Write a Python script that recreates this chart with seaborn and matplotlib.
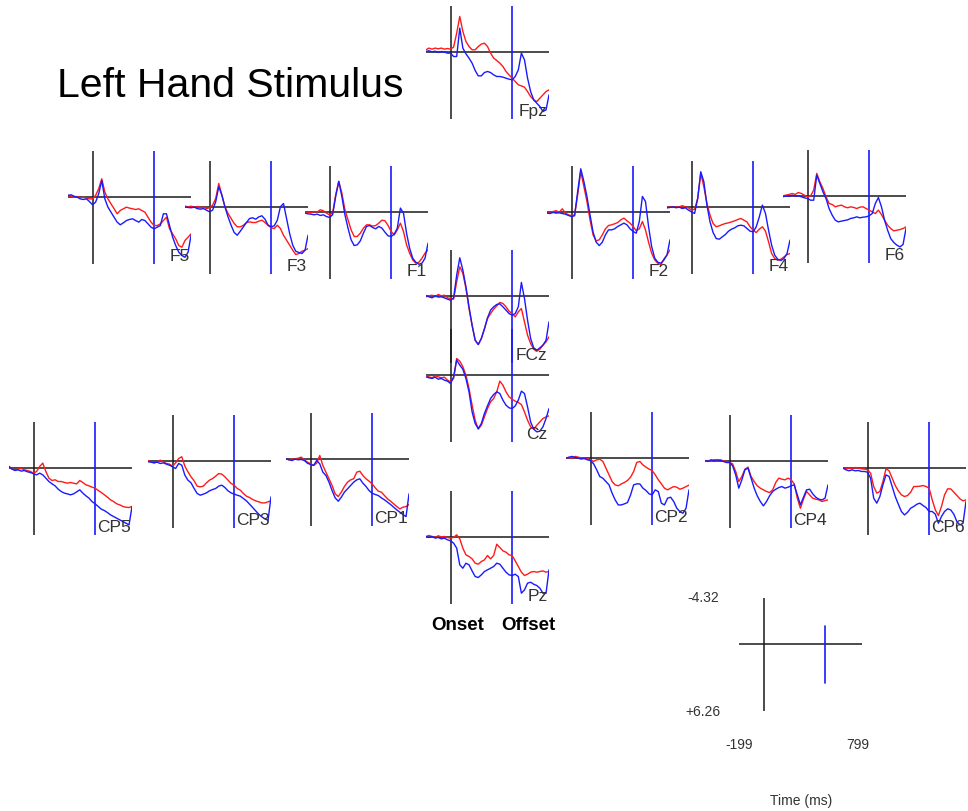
import matplotlib
matplotlib.use("Agg")
import matplotlib.pyplot as plt
import seaborn as sns

sns.set_style("white")
plt.rcParams['font.family'] = ['Liberation Sans', 'DejaVu Sans']

# Sample times (ms) shared by every channel
TIME_MS = [-199, -175, -150, -125, -100, -75, -50, -25, 0, 25, 50, 75, 100, 125,
           150, 175, 200, 225, 250, 275, 300, 325, 350, 375, 400, 425, 450, 475,
           500, 525, 550, 575, 600, 625, 650, 675, 700, 725, 750, 775, 799]

Y_TOP, Y_BOTTOM = -4.32, 6.26      # microvolts, negative plotted upward
T_MIN, T_MAX = -199, 799
ONSET_MS, OFFSET_MS = 0, 500

# Grand-average waveforms (microvolts), red and blue conditions
FPZ_RED = [-0.22, -0.38, -0.28, -0.38, -0.31, -0.38, -0.28, -0.34, -0.28, -0.47,
           -1.78, -3.34, -1.94, -1.0, -0.53, -0.22, -0.22, -0.53, -0.75, -0.84,
           -0.53, 0.09, 0.56, 0.78, 1.03, 1.34, 1.81, 2.13, 2.44, 2.75,
           3.06, 3.16, 3.28, 3.69, 4.16, 4.47, 4.63, 4.31, 4.0, 3.69, 3.53]
FPZ_BLUE = [-0.06, -0.13, -0.03, -0.09, 0.03, -0.06, 0, 0.09, 0.09, 0.41,
            0.41, -2.25, -0.38, 0.16, 0.56, 1.03, 1.72, 2.22, 2.22, 1.91,
            1.81, 1.91, 2.13, 2.28, 2.28, 2.34, 2.44, 2.53, 2.59, 2.28,
            1.66, 0.09, 0.72, 2.44, 3.69, 4.47, 4.78, 5.09, 5.56, 5.41, 4.0]

F5_RED = [-0.16, -0.1, 0, -0.06, 0.06, 0, 0.1, 0.16, 0.16, -0.16,
          -0.78, -1.72, -0.47, 0.16, 0.63, 1.09, 1.56, 1.25, 1.09, 0.94,
          1.03, 1.09, 1.16, 1.09, 1.25, 1.41, 1.88, 2.34, 2.66, 2.66,
          2.5, 2.19, 1.88, 2.97, 3.44, 3.91, 4.53, 4.69, 4.06, 3.75, 3.44]
F5_BLUE = [-0.16, -0.22, -0.09, 0, 0.16, 0.22, 0.16, 0.41, 0.72, 0.47,
           -0.31, -1.56, 0.16, 0.94, 1.41, 1.88, 2.34, 2.59, 2.41, 2.19,
           2.09, 2.03, 2.19, 2.34, 2.09, 2.19, 2.5, 2.81, 2.97, 2.81,
           2.66, 1.56, 1.56, 2.66, 3.75, 4.53, 5.16, 5.47, 5.63, 5.16, 3.59]

F3_RED = [-0.09, -0.03, -0.09, 0, -0.06, 0.06, -0.03, 0.13, 0.06, -0.19,
          -0.81, -2.22, -1.13, -0.03, 0.59, 1.06, 1.53, 1.84, 1.84, 1.69,
          1.44, 1.38, 1.44, 1.44, 1.31, 1.22, 1.44, 1.69, 1.94, 2.0,
          1.69, 2.0, 2.63, 3.09, 3.56, 4.03, 4.44, 4.34, 4.13, 4.03, 3.88]
F3_BLUE = [-0.03, 0.03, 0.06, 0, 0.13, 0.19, 0.13, 0.28, 0.44, 0.28,
           -0.5, -1.91, -1.13, -0.03, 0.91, 1.69, 2.38, 2.63, 2.25, 1.84,
           1.44, 1.06, 1.0, 1.13, 0.91, 0.81, 1.13, 1.69, 1.84, 1.75,
           1.22, -0.03, -0.34, 1.06, 2.47, 3.56, 4.13, 4.25, 4.34, 4.03, 2.63]

F1_RED = [0, 0, 0.06, -0.06, 0, -0.22, -0.13, 0.09, 0.25, 0.09,
          -1.63, -2.88, -1.78, -0.22, 0.72, 1.66, 2.28, 2.28, 1.97, 1.5,
          1.19, 1.19, 1.31, 1.25, 1.03, 0.75, 0.81, 1.25, 1.81, 2.13,
          1.66, 1.03, 1.81, 3.06, 3.84, 4.47, 4.78, 4.69, 4.31, 3.84, 3.53]
F1_BLUE = [0.09, 0.16, 0.19, 0.25, 0.19, 0.31, 0.25, 0.41, 0.5, 0.25,
           -1.47, -2.88, -1.47, 0.25, 1.5, 2.59, 3.13, 3.06, 2.69, 1.97,
           1.34, 1.25, 1.44, 1.56, 1.34, 1.5, 1.88, 2.22, 2.28, 2.06,
           1.5, -0.38, 0.09, 1.97, 3.38, 4.31, 4.69, 4.88, 4.78, 4.31, 2.91]

F2_RED = [0.09, 0, -0.06, -0.13, 0, -0.31, 0.09, 0.25, 0.34, 0.25,
          -1.63, -3.81, -2.41, -1.0, 0.72, 2.13, 2.69, 2.59, 2.13, 1.56,
          1.25, 1.19, 1.09, 0.97, 0.72, 0.56, 0.81, 1.03, 1.34, 1.75,
          1.56, 0.88, 1.66, 2.81, 3.84, 4.47, 4.78, 4.94, 4.38, 4.0, 3.53]
F2_BLUE = [0.09, 0.13, 0.03, 0.09, 0.06, 0.13, 0.19, 0.31, 0.41, 0.34,
           -1.94, -4.06, -2.88, -1.47, 0.25, 1.88, 2.81, 3.13, 2.81, 2.13,
           1.66, 1.66, 1.56, 1.34, 1.19, 1.03, 1.19, 1.56, 1.81, 1.97,
           0.88, -1.47, -1.0, 1.34, 3.22, 4.31, 4.69, 4.78, 4.47, 4.0, 2.59]

F4_RED = [0.06, -0.03, 0.03, -0.03, -0.03, -0.13, -0.03, 0.06, 0.28, 0.19,
          -0.81, -3.16, -1.91, -0.34, 0.75, 1.53, 1.84, 1.75, 1.63, 1.53,
          1.47, 1.38, 1.28, 1.16, 1.06, 1.22, 1.38, 1.84, 2.16, 2.38,
          2.06, 1.84, 2.25, 3.25, 4.34, 4.81, 4.97, 4.88, 4.66, 4.44, 4.34]
F4_BLUE = [0.06, 0.03, -0.03, 0.06, 0, 0.13, 0.06, 0.28, 0.44, 0.59,
           -0.81, -3.31, -2.38, -0.19, 1.38, 2.38, 2.94, 3.0, 2.78, 2.56,
           2.25, 2.06, 1.94, 1.75, 1.69, 1.75, 2.0, 2.25, 2.31, 1.84,
           0.91, -0.19, 0.59, 2.16, 3.56, 4.5, 4.88, 5.0, 4.81, 4.34, 3.09]

F6_RED = [-0.03, -0.09, -0.16, -0.25, -0.16, -0.34, -0.25, -0.09, 0.06, -0.03,
          -0.56, -2.13, -1.34, -0.72, 0.06, 0.69, 0.78, 1.0, 0.91, 0.84,
          1.0, 1.09, 1.0, 1.06, 1.16, 1.03, 1.0, 1.16, 1.31, 1.47,
          1.63, 1.31, 1.72, 2.25, 2.72, 3.03, 3.25, 3.19, 3.13, 3.03, 2.88]
F6_BLUE = [0.06, -0.03, 0.03, -0.09, 0, -0.03, 0.06, 0.16, 0.22, 0.38,
           0.38, -1.97, -1.19, -0.41, 0.22, 1.16, 1.78, 2.25, 2.41, 2.34,
           2.28, 2.22, 2.09, 2.03, 1.94, 2.03, 1.97, 1.94, 1.84, 1.63,
           0.69, 0.13, 1.0, 2.25, 3.19, 3.97, 4.34, 4.59, 4.75, 4.53, 3.03]

FCZ_RED = [0.06, -0.03, -0.09, 0.06, -0.16, -0.03, -0.09, 0.16, 0.22, 0.28,
           -1.34, -2.75, -2.13, -0.72, 1.16, 2.72, 4.13, 4.53, 3.97, 3.03,
           2.09, 1.63, 1.22, 0.91, 0.59, 0.69, 1.0, 1.41, 1.63, 1.94,
           1.47, 1.16, 2.41, 3.66, 4.44, 4.97, 5.16, 4.97, 4.59, 4.28, 3.81]
FCZ_BLUE = [-0.03, 0.06, 0.16, -0.03, 0.09, 0.06, 0.16, 0.28, 0.38, 0.16,
            -1.97, -3.59, -2.44, -0.88, 1.0, 2.72, 4.13, 4.53, 3.97, 3.09,
            2.03, 1.31, 1.0, 0.78, 0.72, 1.0, 1.31, 1.63, 1.78, 1.63,
            1.0, -1.28, 0.22, 2.25, 3.97, 4.84, 5.06, 4.84, 4.59, 4.13, 2.41]

CZ_RED = [0.06, 0.16, 0.25, 0.06, 0.16, 0.25, 0.19, 0.47, 0.63, 0.31,
          -1.56, -1.31, -0.78, 0, 1.25, 2.81, 4.22, 5.06, 4.69, 3.91,
          3.13, 2.5, 2.19, 1.56, 0.56, 0.94, 1.56, 2.03, 2.25, 2.44,
          2.56, 2.75, 3.44, 4.22, 4.84, 5.06, 4.69, 4.38, 4.06, 3.91, 3.81]
CZ_BLUE = [0.16, 0.25, 0.31, 0.19, 0.38, 0.31, 0.47, 0.56, 0.78, 0.16,
           -1.41, -0.94, -0.56, 0.31, 1.56, 3.44, 4.53, 5.0, 4.53, 3.59,
           2.88, 2.19, 1.81, 1.56, 1.72, 2.34, 2.81, 3.06, 3.13, 2.88,
           2.34, 1.5, 1.72, 2.97, 4.38, 5.06, 5.31, 5.25, 4.84, 4.06, 3.13]

CP5_RED = [-0.16, 0.09, 0.16, 0.09, 0.03, 0.16, 0.22, 0.31, 0.47, 0.31,
           -0.16, -0.47, 0.31, 0.94, 1.16, 1.09, 1.25, 1.25, 1.34, 1.41,
           1.34, 1.41, 1.47, 1.16, 1.34, 1.56, 1.66, 1.78, 1.88, 2.09,
           2.28, 2.5, 2.72, 2.97, 3.13, 3.34, 3.44, 3.59, 3.66, 3.69, 3.59]
CP5_BLUE = [-0.16, 0.09, 0.22, 0.16, 0.28, 0.22, 0.34, 0.41, 0.53, 0.63,
            0.47, 0.63, 0.94, 1.25, 1.47, 1.66, 1.97, 2.19, 2.34, 2.41,
            2.5, 2.41, 2.22, 2.03, 2.34, 2.59, 2.81, 3.13, 3.34, 3.59,
            3.84, 3.97, 4.16, 4.38, 4.53, 4.69, 4.84, 5.0, 5.16, 5.31, 3.59]

CP3_RED = [-0.03, 0.06, 0.16, 0.06, -0.09, 0.06, 0.22, 0.28, 0.47, 0.16,
           -0.25, -0.41, 0.47, 1.0, 1.47, 1.84, 2.34, 2.41, 2.34, 2.03,
           1.78, 1.63, 1.41, 1.16, 1.22, 1.47, 1.78, 2.09, 2.25, 2.56,
           2.72, 3.03, 3.28, 3.41, 3.59, 3.72, 3.81, 3.91, 3.91, 3.81, 3.72]
CP3_BLUE = [0.06, 0.09, 0.16, 0.09, 0.22, 0.16, 0.28, 0.38, 0.53, 0.69,
            0.22, 0.38, 1.31, 1.78, 2.03, 2.56, 3.03, 3.19, 3.09, 2.97,
            2.78, 2.66, 2.56, 2.34, 2.25, 2.47, 2.78, 2.97, 3.09, 3.19,
            3.28, 3.5, 3.72, 4.03, 4.34, 4.66, 4.97, 5.22, 5.41, 5.53, 3.34]

CP1_RED = [-0.03, 0.06, 0, -0.03, -0.09, -0.19, 0.06, 0.28, 0.44, 0.59,
           0.38, -0.34, 0.59, 1.22, 1.84, 2.47, 3.25, 3.5, 3.09, 2.56,
           2.16, 1.94, 1.84, 1.22, 1.13, 1.53, 1.84, 2.06, 2.31, 2.69,
           3.0, 3.09, 3.41, 3.72, 3.94, 4.19, 4.44, 4.66, 4.5, 4.44, 4.25]
CP1_BLUE = [-0.03, 0.06, 0.13, 0, 0.06, 0.03, 0.13, 0.38, 0.5, 0.59,
            0.13, 0.44, 1.22, 1.53, 2.16, 2.94, 3.63, 3.94, 3.56, 3.09,
            2.78, 2.47, 2.16, 1.94, 1.84, 2.25, 2.56, 2.94, 3.19, 3.31,
            3.41, 3.63, 3.81, 4.03, 4.25, 4.5, 4.75, 4.97, 5.19, 5.38, 3.25]

CP2_RED = [0, -0.06, 0, -0.16, -0.09, -0.03, 0.03, 0.06, 0.16, 0.31,
           0.16, 0.09, 0.31, 0.94, 1.56, 2.19, 2.5, 2.59, 2.41, 2.28,
           2.09, 1.78, 1.25, 0.41, 0.31, 0.63, 0.84, 1.03, 1.16, 1.56,
           2.03, 2.41, 2.81, 2.97, 2.81, 2.66, 2.72, 2.91, 2.81, 2.66, 2.53]
CP2_BLUE = [0, -0.09, -0.16, -0.06, 0, 0.09, 0.03, 0.16, 0.22, 0.53,
            1.09, 1.72, 1.88, 2.19, 2.5, 3.28, 3.91, 4.38, 4.38, 4.28,
            4.16, 3.44, 2.5, 2.41, 2.41, 2.81, 3.03, 3.34, 3.44, 2.97,
            3.13, 4.22, 4.38, 3.75, 3.66, 4.06, 4.69, 5.0, 5.16, 4.69, 2.97]

CP4_RED = [0.03, -0.06, 0.03, -0.13, -0.03, -0.13, -0.03, 0.03, 0.13, 0.25,
           0.97, 1.91, 1.44, 0.75, 0.56, 1.44, 1.91, 2.31, 2.53, 2.69,
           2.84, 2.94, 2.69, 2.0, 1.59, 1.69, 1.75, 1.59, 1.75, 2.13,
           3.47, 4.41, 3.56, 2.84, 3.16, 3.47, 3.56, 3.63, 3.78, 3.69, 3.63]
CP4_BLUE = [-0.06, 0.03, -0.13, -0.06, -0.13, -0.06, 0.03, 0.13, 0.13, 0.44,
            1.28, 2.53, 1.75, 0.81, 0.66, 1.59, 2.53, 3.25, 3.78, 4.19,
            3.78, 3.25, 2.84, 2.63, 2.47, 2.38, 2.53, 2.44, 2.31, 2.22,
            3.16, 4.09, 3.38, 2.69, 2.63, 3.06, 3.38, 3.56, 3.63, 3.47, 2.22]

CP6_RED = [-0.06, 0.06, 0, 0.06, -0.06, 0, 0.06, 0.09, 0.16, 0.47,
           1.72, 2.34, 2.19, 1.25, 0.06, 0.25, 0.94, 1.63, 2.13, 2.5,
           2.66, 2.56, 2.25, 1.72, 1.72, 1.69, 1.63, 1.72, 1.88, 2.97,
           3.91, 4.44, 3.59, 2.5, 1.94, 1.94, 2.25, 2.56, 2.88, 3.06, 2.97]
CP6_BLUE = [0, 0.16, 0.25, 0.16, 0.25, 0.22, 0.31, 0.31, 0.38, 0.94,
            2.81, 3.28, 2.66, 1.56, 0.63, 0.78, 1.72, 2.66, 3.38, 4.06,
            4.38, 4.13, 3.75, 3.59, 3.38, 3.28, 3.5, 3.69, 4.06, 4.06,
            4.31, 5.16, 4.53, 4.06, 3.81, 3.91, 4.31, 5.0, 5.31, 5.16, 3.13]

PZ_RED = [-0.06, -0.16, -0.06, 0.03, -0.13, -0.03, -0.06, 0.03, 0.09, 0.03,
          -0.22, 0.16, 1.03, 1.66, 1.81, 2.03, 2.44, 2.53, 2.28, 2.13,
          1.72, 2.03, 1.72, 0.66, 0.97, 1.28, 1.41, 1.66, 1.72, 2.22,
          2.75, 3.28, 3.59, 3.47, 3.28, 3.22, 3.28, 3.22, 3.16, 3.28, 3.22]
PZ_BLUE = [-0.06, 0.03, -0.06, 0.09, 0.03, 0.16, 0.09, 0.25, 0.34, 0.56,
           1.03, 2.59, 2.91, 2.44, 2.59, 3.16, 3.69, 3.78, 3.53, 3.22,
           3.06, 2.91, 2.75, 2.44, 2.53, 2.91, 3.28, 3.53, 3.59, 3.47,
           3.69, 5.25, 4.94, 4.31, 4.22, 4.41, 4.53, 4.78, 5.25, 5.25, 3.06]

# Scalp layout: channel name, traces, panel top-left corner in pixels
FIG_W, FIG_H = 968, 811
PANEL_W, PANEL_H = 123, 113
LAYOUT = [
    ("Fpz", FPZ_RED, FPZ_BLUE, 426, 6),
    ("F5", F5_RED, F5_BLUE, 68, 151),
    ("F3", F3_RED, F3_BLUE, 185, 161),
    ("F1", F1_RED, F1_BLUE, 305, 166),
    ("F2", F2_RED, F2_BLUE, 547, 166),
    ("F4", F4_RED, F4_BLUE, 667, 161),
    ("F6", F6_RED, F6_BLUE, 783, 150),
    ("FCz", FCZ_RED, FCZ_BLUE, 426, 250),
    ("Cz", CZ_RED, CZ_BLUE, 426, 329),
    ("CP5", CP5_RED, CP5_BLUE, 9, 422),
    ("CP3", CP3_RED, CP3_BLUE, 148, 415),
    ("CP1", CP1_RED, CP1_BLUE, 286, 413),
    ("CP2", CP2_RED, CP2_BLUE, 566, 412),
    ("CP4", CP4_RED, CP4_BLUE, 705, 415),
    ("CP6", CP6_RED, CP6_BLUE, 843, 422),
    ("Pz", PZ_RED, PZ_BLUE, 426, 491),
]

RED = "#ff1a1a"
BLUE = "#1a1aff"
AXIS_BLACK = "#1a1a1a"
LABEL_GREY = "#333333"


def panel_axes(fig, left_px, top_px):
    ax = fig.add_axes([left_px / FIG_W, 1 - (top_px + PANEL_H) / FIG_H,
                       PANEL_W / FIG_W, PANEL_H / FIG_H])
    ax.set_xlim(T_MIN, T_MAX)
    ax.set_ylim(Y_BOTTOM, Y_TOP)
    ax.set_axis_off()
    return ax


fig = plt.figure(figsize=(FIG_W / 100, FIG_H / 100), dpi=100)
fig.patch.set_facecolor("white")

for name, red, blue, left, top in LAYOUT:
    ax = panel_axes(fig, left, top)
    ax.axhline(0, color=AXIS_BLACK, lw=1.1, zorder=1)
    ax.axvline(ONSET_MS, color=AXIS_BLACK, lw=1.1, zorder=1)
    ax.axvline(OFFSET_MS, color=BLUE, lw=1.2, zorder=1)
    sns.lineplot(x=TIME_MS, y=red, ax=ax, color=RED, lw=1.0,
                 estimator=None, sort=False, zorder=3)
    sns.lineplot(x=TIME_MS, y=blue, ax=ax, color=BLUE, lw=1.0,
                 estimator=None, sort=False, zorder=4)
    ax.set_xlim(T_MIN, T_MAX)
    ax.set_ylim(Y_BOTTOM, Y_TOP)
    ax.set_axis_off()
    ax.text(0.99, 0.03, name, transform=ax.transAxes, ha="right",
            va="baseline", fontsize=12.5, color=LABEL_GREY, zorder=5)

# Scale key
key = panel_axes(fig, 739, 598)
key.axhline(0, color=AXIS_BLACK, lw=1.1)
key.axvline(ONSET_MS, color=AXIS_BLACK, lw=1.1)
key.axvline(OFFSET_MS, ymin=0.25, ymax=0.75, color=BLUE, lw=1.2)


def fig_text(x_px, y_px, s, **kw):
    fig.text(x_px / FIG_W, 1 - y_px / FIG_H, s, **kw)


fig_text(687, 598, f"{Y_TOP:.2f}", fontsize=10, color=LABEL_GREY,
         ha="left", va="center")
fig_text(685, 712, f"+{Y_BOTTOM:.2f}", fontsize=10, color=LABEL_GREY,
         ha="left", va="center")
fig_text(725, 745, f"{T_MIN}", fontsize=10, color=LABEL_GREY,
         ha="left", va="center")
fig_text(846, 745, f"{T_MAX}", fontsize=10, color=LABEL_GREY,
         ha="left", va="center")
fig_text(770, 801, "Time (ms)", fontsize=10, color=LABEL_GREY,
         ha="left", va="center")

fig_text(431, 625, "Onset", fontsize=13.5, fontweight="bold", color="black",
         ha="left", va="center")
fig_text(501, 625, "Offset", fontsize=13.5, fontweight="bold", color="black",
         ha="left", va="center")

fig_text(57, 97, "Left Hand Stimulus", fontsize=29.5, color="black",
         ha="left", va="baseline")

fig.savefig("out.png", dpi=100, facecolor="white")
